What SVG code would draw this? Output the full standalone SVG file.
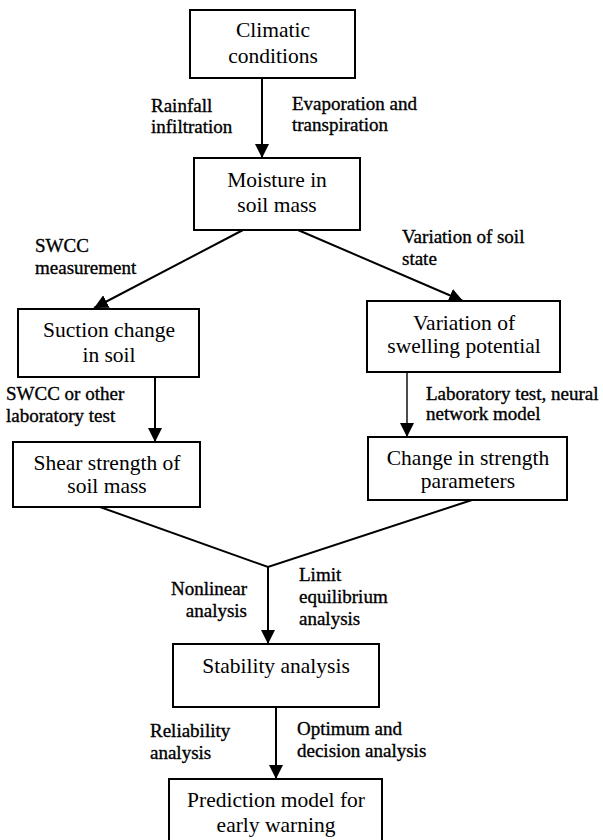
<svg xmlns="http://www.w3.org/2000/svg" width="603" height="840" viewBox="0 0 603 840">
  <style>
    .box { fill: #fff; stroke: #000; stroke-width: 2; }
    .bt { font-size: 21.5px; text-anchor: middle; fill: #000; }
    .lb { font-size: 19px; fill: #000; stroke: #000; stroke-width: 0.35; }
    .end { text-anchor: end; }
    .ln { stroke: #000; stroke-width: 2; fill: none; }
    .thin { stroke-width: 1.4; }
  </style>
  <defs>
    <marker id="ah" markerUnits="userSpaceOnUse" markerWidth="14" markerHeight="14" refX="14" refY="7" orient="auto">
      <path d="M0,0 L14,7 L0,14 z" fill="#000"/>
    </marker>
  </defs>
  <rect width="603" height="840" fill="#fff"/>

  <g id="connectors">
    <line class="ln" x1="262" y1="78" x2="262" y2="158" marker-end="url(#ah)"/>
    <line class="ln" x1="243" y1="230" x2="94" y2="308" marker-end="url(#ah)"/>
    <line class="ln" x1="298" y1="230" x2="463" y2="301" marker-end="url(#ah)"/>
    <line class="ln" x1="155" y1="377" x2="155" y2="442" marker-end="url(#ah)"/>
    <line class="ln thin" x1="407" y1="372" x2="407" y2="437" marker-end="url(#ah)"/>
    <polyline class="ln" points="100,507 268,567 472,500"/>
    <line class="ln" x1="268" y1="567" x2="268" y2="644" marker-end="url(#ah)"/>
    <line class="ln" x1="276" y1="707" x2="276" y2="779" marker-end="url(#ah)"/>
  </g>

  <g id="labels" font-family="Liberation Serif, Times New Roman, serif">
    <text class="lb" x="151" y="112">Rainfall</text>
    <text class="lb" x="151" y="133">infiltration</text>
    <text class="lb" x="292" y="110">Evaporation and</text>
    <text class="lb" x="292" y="131">transpiration</text>
    <text class="lb" x="35" y="252">SWCC</text>
    <text class="lb" x="35" y="274">measurement</text>
    <text class="lb" x="402" y="243">Variation of soil</text>
    <text class="lb" x="402" y="265">state</text>
    <text class="lb" x="6" y="400">SWCC or other</text>
    <text class="lb" x="6" y="422">laboratory test</text>
    <text class="lb" x="426" y="400">Laboratory test, neural</text>
    <text class="lb" x="426" y="420">network model</text>
    <text class="lb end" x="247" y="595">Nonlinear</text>
    <text class="lb end" x="247" y="617">analysis</text>
    <text class="lb" x="299" y="581">Limit</text>
    <text class="lb" x="299" y="603">equilibrium</text>
    <text class="lb" x="299" y="625">analysis</text>
    <text class="lb" x="150" y="737">Reliability</text>
    <text class="lb" x="150" y="759">analysis</text>
    <text class="lb" x="297" y="735">Optimum and</text>
    <text class="lb" x="297" y="757">decision analysis</text>
  </g>

  <g font-family="Liberation Serif, Times New Roman, serif">
  <g id="climatic">
    <rect class="box" x="190" y="10" width="165" height="68"/>
    <text class="bt" x="273" y="37">Climatic</text>
    <text class="bt" x="273" y="63">conditions</text>
  </g>
  <g id="moisture">
    <rect class="box" x="194" y="158" width="166" height="72"/>
    <text class="bt" x="277" y="187">Moisture in</text>
    <text class="bt" x="277" y="212">soil mass</text>
  </g>
  <g id="suction">
    <rect class="box" x="18" y="309" width="181" height="68"/>
    <text class="bt" x="109" y="337">Suction change</text>
    <text class="bt" x="109" y="362">in soil</text>
  </g>
  <g id="swelling">
    <rect class="box" x="367" y="301" width="193" height="71"/>
    <text class="bt" x="464" y="330">Variation of</text>
    <text class="bt" x="464" y="353">swelling potential</text>
  </g>
  <g id="shear">
    <rect class="box" x="13" y="442" width="187" height="65"/>
    <text class="bt" x="107" y="470">Shear strength of</text>
    <text class="bt" x="107" y="493">soil mass</text>
  </g>
  <g id="strength">
    <rect class="box" x="368" y="437" width="199" height="63"/>
    <text class="bt" x="468" y="465">Change in strength</text>
    <text class="bt" x="468" y="488">parameters</text>
  </g>
  <g id="stability">
    <rect class="box" x="173" y="644" width="206" height="63"/>
    <text class="bt" x="276" y="673">Stability analysis</text>
  </g>
  <g id="prediction">
    <rect class="box" x="169" y="779" width="213" height="70"/>
    <text class="bt" x="276" y="807">Prediction model for</text>
    <text class="bt" x="276" y="832">early warning</text>
  </g>
  </g>
</svg>
